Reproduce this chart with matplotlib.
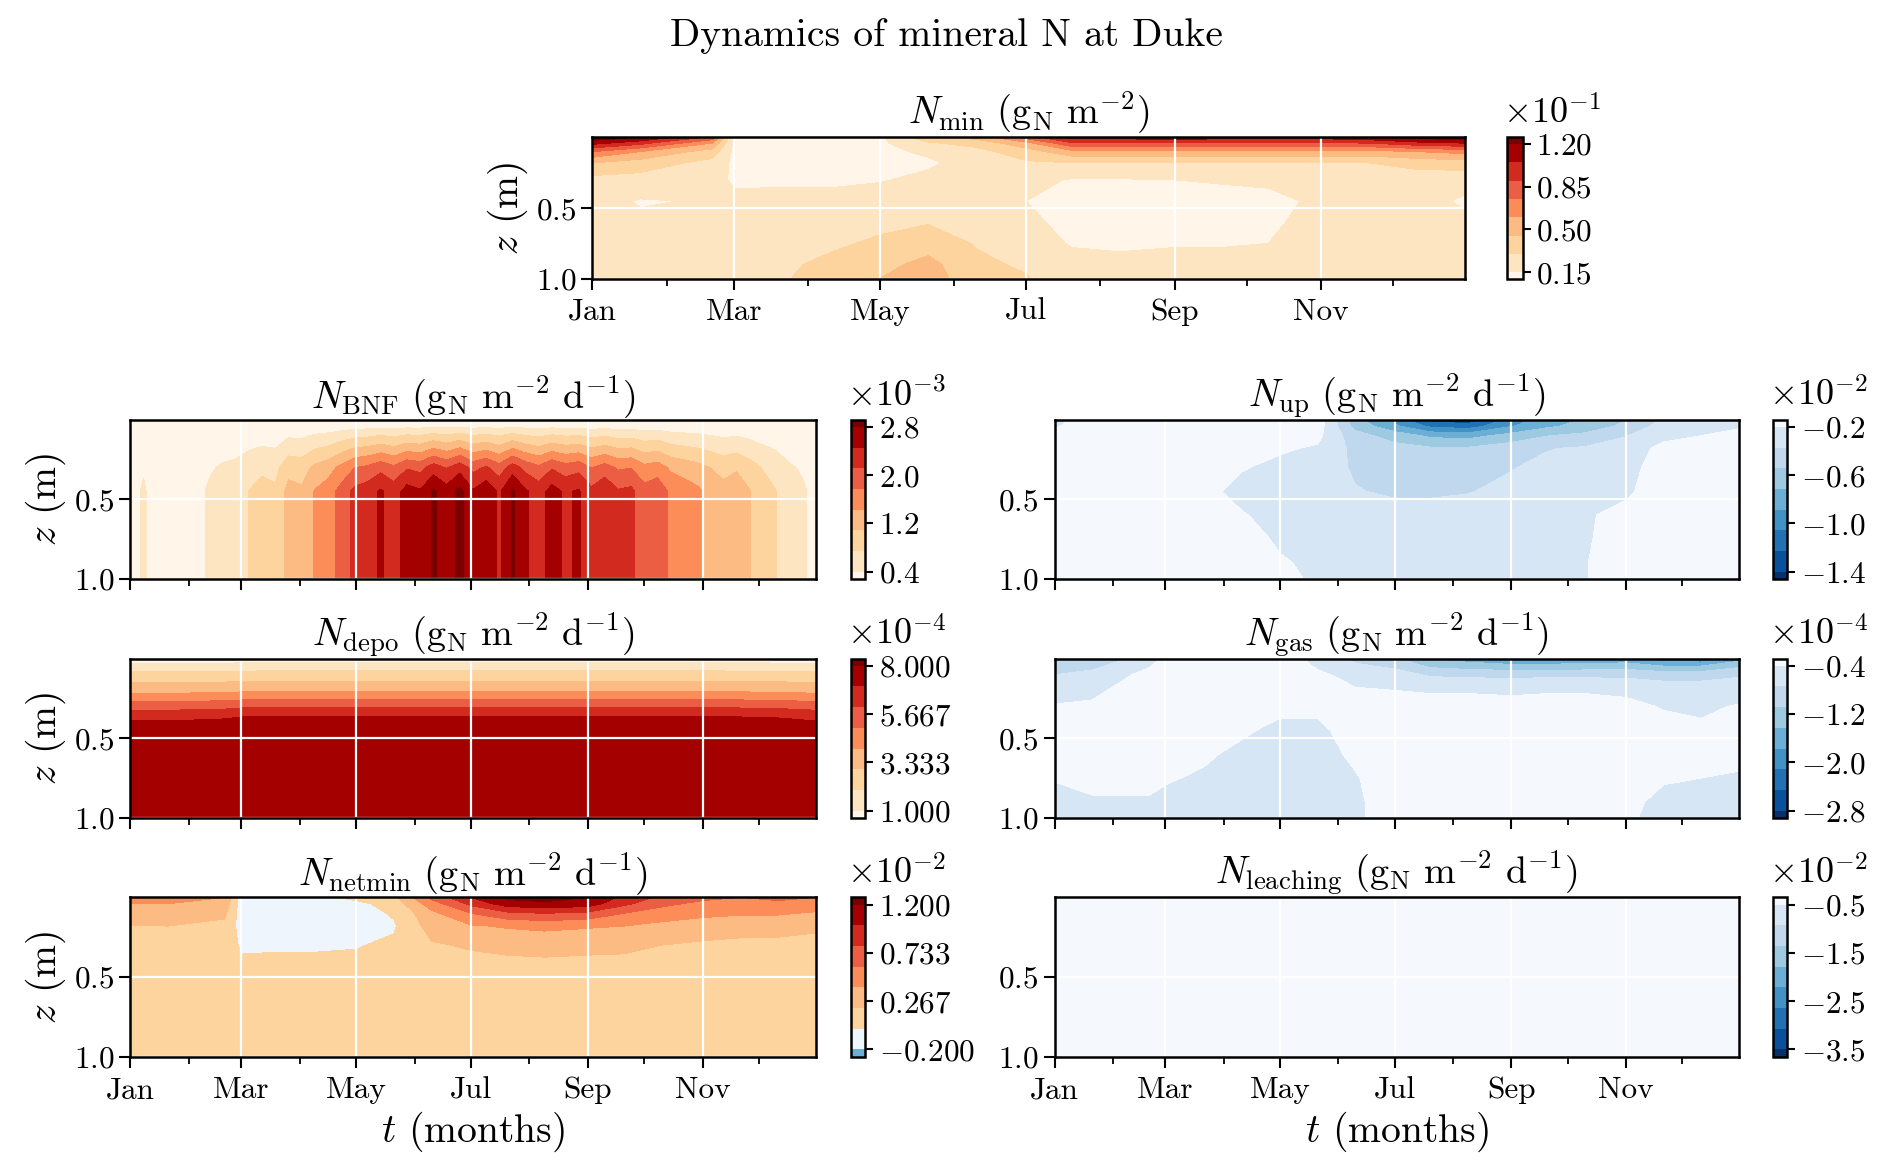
import numpy as np
import matplotlib.pyplot as plt

plt.rcParams['font.family'] = 'serif'
plt.rcParams['font.serif'] = ['cmr10']
plt.rcParams['mathtext.fontset'] = 'cm'
plt.rcParams['axes.formatter.use_mathtext'] = True

# time nodes (day of year) and depth nodes (m) of the gridded fields
t_days = [0, 20, 50, 59, 80, 100, 120, 140, 160, 181, 200, 220, 243, 262, 282, 304, 324, 344, 364]
z_depth = [0.0, 0.04, 0.1, 0.18, 0.3, 0.45, 0.6, 0.75, 0.9, 1.0]

month_days = [0, 31, 59, 90, 120, 151, 181, 212, 243, 273, 304, 334]
month_names = ['Jan', 'Feb', 'Mar', 'Apr', 'May', 'Jun', 'Jul', 'Aug', 'Sep', 'Oct', 'Nov', 'Dec']

# mineral N stock, x1e-1 gN m-2 (one depth profile per time node)
nmin = [
    [1.30, 1.10, 0.75, 0.45, 0.25, 0.20, 0.20, 0.22, 0.22, 0.22],
    [1.20, 0.95, 0.60, 0.38, 0.24, 0.14, 0.17, 0.20, 0.22, 0.22],
    [0.85, 0.60, 0.38, 0.25, 0.20, 0.16, 0.18, 0.20, 0.22, 0.22],
    [0.12, 0.12, 0.12, 0.12, 0.13, 0.18, 0.20, 0.22, 0.22, 0.22],
    [0.10, 0.10, 0.11, 0.11, 0.12, 0.20, 0.22, 0.25, 0.28, 0.29],
    [0.10, 0.10, 0.11, 0.11, 0.12, 0.20, 0.24, 0.28, 0.33, 0.36],
    [0.12, 0.12, 0.12, 0.12, 0.14, 0.22, 0.27, 0.32, 0.40, 0.45],
    [0.40, 0.28, 0.17, 0.13, 0.18, 0.25, 0.29, 0.38, 0.50, 0.52],
    [0.50, 0.35, 0.25, 0.20, 0.20, 0.22, 0.25, 0.29, 0.33, 0.36],
    [0.80, 0.55, 0.38, 0.28, 0.19, 0.15, 0.18, 0.21, 0.28, 0.31],
    [1.10, 0.88, 0.55, 0.30, 0.14, 0.11, 0.11, 0.14, 0.19, 0.22],
    [1.10, 0.88, 0.55, 0.30, 0.14, 0.11, 0.11, 0.13, 0.18, 0.20],
    [1.15, 0.88, 0.55, 0.30, 0.15, 0.11, 0.11, 0.14, 0.19, 0.22],
    [1.10, 0.88, 0.55, 0.30, 0.16, 0.11, 0.12, 0.14, 0.19, 0.22],
    [1.10, 0.88, 0.55, 0.30, 0.17, 0.12, 0.13, 0.15, 0.20, 0.22],
    [1.10, 0.88, 0.55, 0.30, 0.20, 0.17, 0.19, 0.20, 0.22, 0.25],
    [1.15, 0.90, 0.55, 0.30, 0.22, 0.20, 0.20, 0.22, 0.25, 0.30],
    [1.25, 1.00, 0.60, 0.35, 0.22, 0.20, 0.20, 0.21, 0.23, 0.25],
    [1.30, 1.05, 0.65, 0.38, 0.20, 0.13, 0.18, 0.20, 0.22, 0.22],
]

# BNF, x1e-3: weekly deep value and relative depth profile
bnf_days = list(range(0, 365, 7))
bnf_deep = [0.25, 0.45, 0.20, 0.30, 0.25, 0.30, 0.45, 0.55, 0.60, 0.75, 0.85, 0.80, 1.20, 1.15,
            1.45, 1.60, 1.90, 2.20, 2.30, 2.50, 2.30, 2.60, 2.50, 2.85, 2.60, 2.90, 2.50, 2.70,
            2.40, 2.85, 2.50, 2.30, 2.60, 2.40, 2.50, 2.20, 2.40, 2.15, 2.20, 1.90, 2.00, 1.70,
            1.60, 1.50, 1.35, 1.20, 1.30, 1.10, 0.90, 0.75, 0.55, 0.45, 0.30]
bnf_profile = [0.0, 0.12, 0.30, 0.50, 0.80, 1.0, 1.0, 1.0, 1.0, 1.0]

# deposition, x1e-4: depth profile and seasonal factor
depo_z = [0.0, 0.03, 0.08, 0.145, 0.21, 0.26, 0.31, 0.365, 0.42, 1.0]
depo_profile = [0.6, 1.05, 2.05, 3.05, 4.05, 5.05, 6.05, 7.05, 7.7, 7.95]
depo_season = [0.95, 0.95, 0.97, 0.99, 1.0, 1.0, 1.0, 1.0, 1.0, 1.0,
               1.0, 1.0, 1.0, 1.0, 1.0, 1.0, 0.99, 0.98, 0.95]

# net mineralization, x1e-2
netmin = [
    [0.45, 0.40, 0.30, 0.19, 0.12, 0.10, 0.10, 0.10, 0.10, 0.10],
    [0.50, 0.40, 0.30, 0.20, 0.12, 0.10, 0.10, 0.10, 0.10, 0.10],
    [0.40, 0.32, 0.24, 0.15, 0.12, 0.10, 0.10, 0.10, 0.10, 0.10],
    [-0.10, -0.10, -0.10, -0.08, -0.03, 0.05, 0.10, 0.10, 0.10, 0.10],
    [-0.12, -0.12, -0.10, -0.08, -0.02, 0.05, 0.10, 0.10, 0.10, 0.10],
    [-0.05, -0.10, -0.10, -0.08, -0.02, 0.05, 0.10, 0.10, 0.10, 0.10],
    [0.05, -0.05, -0.08, -0.06, -0.01, 0.05, 0.10, 0.10, 0.10, 0.10],
    [0.15, 0.08, 0.02, -0.02, 0.03, 0.08, 0.10, 0.10, 0.10, 0.10],
    [0.65, 0.50, 0.35, 0.28, 0.18, 0.12, 0.10, 0.10, 0.10, 0.10],
    [1.00, 0.85, 0.60, 0.38, 0.22, 0.13, 0.10, 0.10, 0.10, 0.10],
    [1.25, 1.10, 0.75, 0.42, 0.25, 0.13, 0.10, 0.10, 0.10, 0.10],
    [1.30, 1.15, 0.80, 0.45, 0.26, 0.14, 0.10, 0.10, 0.10, 0.10],
    [1.20, 1.10, 0.75, 0.42, 0.25, 0.13, 0.10, 0.10, 0.10, 0.10],
    [0.95, 0.85, 0.60, 0.40, 0.24, 0.13, 0.10, 0.10, 0.10, 0.10],
    [0.75, 0.65, 0.50, 0.35, 0.20, 0.12, 0.10, 0.10, 0.10, 0.10],
    [0.65, 0.55, 0.45, 0.30, 0.17, 0.10, 0.10, 0.10, 0.10, 0.10],
    [0.60, 0.55, 0.42, 0.28, 0.15, 0.10, 0.10, 0.10, 0.10, 0.10],
    [0.65, 0.55, 0.42, 0.27, 0.15, 0.10, 0.10, 0.10, 0.10, 0.10],
    [0.60, 0.50, 0.38, 0.24, 0.13, 0.10, 0.10, 0.10, 0.10, 0.10],
]

# plant uptake, x1e-2
nup = [
    [-0.25, -0.22, -0.15, -0.10, -0.10, -0.10, -0.10, -0.10, -0.10, -0.10],
    [-0.12, -0.10, -0.10, -0.10, -0.10, -0.10, -0.10, -0.10, -0.10, -0.10],
    [-0.10, -0.10, -0.10, -0.10, -0.10, -0.10, -0.10, -0.10, -0.10, -0.10],
    [-0.10, -0.10, -0.10, -0.10, -0.10, -0.10, -0.10, -0.10, -0.10, -0.10],
    [-0.10, -0.10, -0.10, -0.10, -0.13, -0.16, -0.13, -0.10, -0.10, -0.10],
    [-0.10, -0.10, -0.10, -0.12, -0.19, -0.25, -0.19, -0.12, -0.10, -0.10],
    [-0.10, -0.10, -0.13, -0.18, -0.24, -0.26, -0.25, -0.23, -0.18, -0.15],
    [-0.10, -0.12, -0.16, -0.22, -0.26, -0.27, -0.26, -0.25, -0.24, -0.23],
    [-0.65, -0.60, -0.48, -0.42, -0.40, -0.36, -0.28, -0.27, -0.26, -0.26],
    [-0.95, -0.85, -0.62, -0.48, -0.44, -0.40, -0.30, -0.28, -0.27, -0.27],
    [-1.30, -1.10, -0.75, -0.52, -0.45, -0.40, -0.30, -0.28, -0.27, -0.27],
    [-1.35, -1.15, -0.78, -0.52, -0.44, -0.38, -0.30, -0.28, -0.27, -0.27],
    [-1.00, -0.90, -0.65, -0.45, -0.38, -0.33, -0.28, -0.27, -0.26, -0.26],
    [-0.80, -0.75, -0.55, -0.38, -0.33, -0.30, -0.27, -0.26, -0.25, -0.25],
    [-0.70, -0.65, -0.50, -0.35, -0.30, -0.28, -0.22, -0.22, -0.21, -0.21],
    [-0.55, -0.50, -0.38, -0.30, -0.27, -0.23, -0.15, -0.12, -0.10, -0.10],
    [-0.35, -0.30, -0.25, -0.15, -0.10, -0.10, -0.10, -0.10, -0.10, -0.10],
    [-0.30, -0.26, -0.20, -0.12, -0.10, -0.10, -0.10, -0.10, -0.10, -0.10],
    [-0.25, -0.22, -0.15, -0.10, -0.10, -0.10, -0.10, -0.10, -0.10, -0.10],
]

# gaseous losses, x1e-4
ngas = [
    [-1.10, -0.95, -0.75, -0.55, -0.38, -0.30, -0.30, -0.38, -0.50, -0.55],
    [-1.00, -0.85, -0.65, -0.50, -0.35, -0.25, -0.28, -0.35, -0.42, -0.45],
    [-0.60, -0.45, -0.30, -0.22, -0.20, -0.22, -0.27, -0.34, -0.42, -0.47],
    [-0.30, -0.25, -0.20, -0.20, -0.20, -0.25, -0.30, -0.38, -0.45, -0.48],
    [-0.20, -0.20, -0.20, -0.20, -0.25, -0.30, -0.37, -0.43, -0.47, -0.50],
    [-0.20, -0.20, -0.20, -0.20, -0.28, -0.37, -0.45, -0.48, -0.50, -0.50],
    [-0.20, -0.20, -0.20, -0.25, -0.35, -0.45, -0.50, -0.50, -0.50, -0.50],
    [-0.50, -0.45, -0.35, -0.28, -0.35, -0.45, -0.50, -0.50, -0.50, -0.50],
    [-0.85, -0.70, -0.50, -0.40, -0.30, -0.30, -0.35, -0.42, -0.45, -0.45],
    [-1.00, -0.85, -0.60, -0.42, -0.30, -0.25, -0.25, -0.25, -0.25, -0.25],
    [-1.50, -1.20, -0.80, -0.45, -0.30, -0.25, -0.25, -0.25, -0.25, -0.25],
    [-1.60, -1.30, -0.85, -0.45, -0.30, -0.25, -0.25, -0.25, -0.25, -0.25],
    [-1.80, -1.40, -0.85, -0.48, -0.30, -0.25, -0.25, -0.25, -0.25, -0.25],
    [-1.70, -1.40, -0.85, -0.45, -0.30, -0.25, -0.25, -0.25, -0.25, -0.25],
    [-1.70, -1.35, -0.85, -0.45, -0.30, -0.25, -0.25, -0.25, -0.25, -0.25],
    [-1.70, -1.30, -0.85, -0.48, -0.33, -0.25, -0.25, -0.30, -0.35, -0.35],
    [-2.00, -1.50, -0.90, -0.60, -0.42, -0.30, -0.30, -0.38, -0.45, -0.50],
    [-2.10, -1.50, -0.90, -0.60, -0.45, -0.35, -0.32, -0.40, -0.47, -0.50],
    [-1.60, -1.20, -0.80, -0.55, -0.38, -0.30, -0.35, -0.42, -0.48, -0.50],
]

# leaching, x1e-2: depth profile, same through the year
leach_profile = [-0.30, -0.25, -0.20, -0.15, -0.12, -0.10, -0.10, -0.10, -0.10, -0.10]

orrd = ['#fff5e8', '#fee5c2', '#fdd49e', '#fdbb84', '#fc8d59', '#ec5e43', '#d22a1e', '#a50000', '#7a0000']
blues_r = ['#08306b', '#08519c', '#2171b5', '#4292c6', '#6baed6', '#9ecae1', '#c0d8ed', '#d6e6f4', '#f5f9fd']
netmin_colors = ['#6baed6', '#eef5fc', '#fdd49e', '#fdbb84', '#fc8d59', '#ec5e43', '#d22a1e', '#a50000', '#7a0000']

fig = plt.figure(figsize=(18.92, 11.76), dpi=100)

TICK = 22.5
TITLE = 27.5
LABEL = 28.5


def panel(ax, cax, x, y, field, vmin, vmax, colors, title, fmt, expo, xlabels=False, ylabel=True):
    levels = np.linspace(vmin, vmax, 8)
    cs = ax.contourf(x, y, field, levels=levels, colors=colors, extend='both')
    ax.set_xlim(0, 364)
    ax.set_ylim(1.0, 0.0)
    ax.set_yticks([0.5, 1.0])
    ax.set_yticklabels(['$0.5$', '$1.0$'])
    ax.set_xticks(month_days[::2])
    ax.set_xticks(month_days[1::2], minor=True)
    if xlabels:
        ax.set_xticklabels(month_names[::2])
    else:
        ax.set_xticklabels([])
    ax.tick_params(which='major', length=8, width=1.5, labelsize=TICK, direction='out')
    ax.tick_params(axis='x', which='major', pad=6)
    ax.tick_params(which='minor', length=5, width=1.3)
    ax.grid(True, which='major', color='white', lw=1.6)
    for s in ax.spines.values():
        s.set_linewidth(1.8)
    ax.set_title(title, fontsize=TITLE, pad=8)
    if ylabel:
        ax.set_ylabel('$z$ (m)', fontsize=LABEL)

    ticks = np.linspace(vmin, vmax, 4)
    cb = fig.colorbar(cs, cax=cax, extendrect=True, ticks=ticks)
    cb.set_ticklabels(['$' + fmt.format(v) + '$' for v in ticks])
    cb.ax.tick_params(length=6, width=1.5, labelsize=TICK)
    cb.outline.set_linewidth(1.8)
    pos = cax.get_position()
    fig.text(pos.x0 - 0.002, pos.y1 + 0.006, r'$\times10^{%d}$' % expo, fontsize=26,
             ha='left', va='bottom')
    return cs


T, Z = np.meshgrid(t_days, z_depth)

# top panel
ax0 = fig.add_axes([0.3131, 0.7631, 0.4611, 0.1200])
cx0 = fig.add_axes([0.7966, 0.7631, 0.0082, 0.1200])
panel(ax0, cx0, T, Z, np.array(nmin).T, 0.15, 1.20, orrd,
      r'$N_{\mathrm{min}}\ (\mathrm{g_N\ m^{-2}})$', '{:.2f}', -1, xlabels=True)

rows = [0.5077, 0.3046, 0.1015]
h = 0.1354
lx, lw_ = 0.0689, 0.3622
rx, rw = 0.5574, 0.3616
lcx, rcx, cw = 0.4496, 0.9369, 0.0078

unit = r'\ (\mathrm{g_N\ m^{-2}\ d^{-1}})$'

# BNF
ax = fig.add_axes([lx, rows[0], lw_, h])
cx = fig.add_axes([lcx, rows[0], cw, h])
Tb, Zb = np.meshgrid(bnf_days, z_depth)
panel(ax, cx, Tb, Zb, np.outer(bnf_profile, bnf_deep), 0.4, 2.8, orrd,
      r'$N_{\mathrm{BNF}}' + unit, '{:.1f}', -3)

# deposition
ax = fig.add_axes([lx, rows[1], lw_, h])
cx = fig.add_axes([lcx, rows[1], cw, h])
Td, Zd = np.meshgrid(t_days, depo_z)
panel(ax, cx, Td, Zd, np.outer(depo_profile, depo_season), 1.0, 8.0, orrd,
      r'$N_{\mathrm{depo}}' + unit, '{:.3f}', -4)

# net mineralization
ax = fig.add_axes([lx, rows[2], lw_, h])
cx = fig.add_axes([lcx, rows[2], cw, h])
panel(ax, cx, T, Z, np.array(netmin).T, -0.2, 1.2, netmin_colors,
      r'$N_{\mathrm{netmin}}' + unit, '{:.3f}', -2, xlabels=True)
ax.set_xlabel('$t$ (months)', fontsize=LABEL)

# uptake
ax = fig.add_axes([rx, rows[0], rw, h])
cx = fig.add_axes([rcx, rows[0], cw, h])
panel(ax, cx, T, Z, np.array(nup).T, -1.4, -0.2, blues_r,
      r'$N_{\mathrm{up}}' + unit, '{:.1f}', -2, ylabel=False)

# gas
ax = fig.add_axes([rx, rows[1], rw, h])
cx = fig.add_axes([rcx, rows[1], cw, h])
panel(ax, cx, T, Z, np.array(ngas).T, -2.8, -0.4, blues_r,
      r'$N_{\mathrm{gas}}' + unit, '{:.1f}', -4, ylabel=False)

# leaching
ax = fig.add_axes([rx, rows[2], rw, h])
cx = fig.add_axes([rcx, rows[2], cw, h])
leach = np.tile(np.array(leach_profile)[:, None], (1, len(t_days)))
panel(ax, cx, T, Z, leach, -3.5, -0.5, blues_r,
      r'$N_{\mathrm{leaching}}' + unit, '{:.1f}', -2, xlabels=True, ylabel=False)
ax.set_xlabel('$t$ (months)', fontsize=LABEL)

fig.suptitle('Dynamics of mineral N at Duke', fontsize=LABEL, y=0.985)

fig.savefig('out.png', dpi=100)
